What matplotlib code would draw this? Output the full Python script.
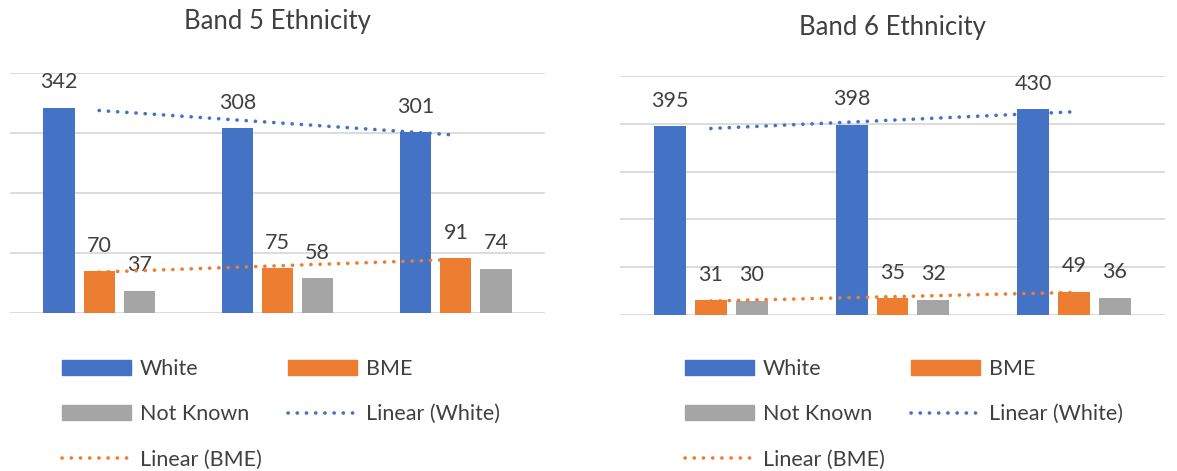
import numpy as np
import matplotlib.pyplot as plt
from matplotlib.patches import Patch
from matplotlib.lines import Line2D

plt.rcParams['font.family'] = ['Lato', 'DejaVu Sans']

# Chart data
groups = [0, 1, 2]
series = ['White', 'BME', 'Not Known']
colors = {'White': '#4472C4', 'BME': '#ED7D31', 'Not Known': '#A5A5A5'}

band5_white = [342, 308, 301]
band5_bme = [70, 75, 91]
band5_unknown = [37, 58, 74]

band6_white = [395, 398, 430]
band6_bme = [31, 35, 49]
band6_unknown = [30, 32, 36]

TEXT = '#404040'
GRID = '#d9d9d9'
DOTS = (0, (0.05, 2.5))


def draw_band(ax, white, bme, unknown, ymax):
    x = np.array(groups)
    width = 0.175
    offsets = [-0.225, 0, 0.225]
    for vals, name, off in zip([white, bme, unknown], series, offsets):
        bars = ax.bar(x + off, vals, width, color=colors[name], zorder=2)
        for b, v in zip(bars, vals):
            ax.annotate(str(v), (b.get_x() + b.get_width() / 2, v),
                        xytext=(0, 14), textcoords='offset points',
                        ha='center', va='baseline', fontsize=15.5, color=TEXT)

    # linear trendlines through group centres
    for vals, name in [(white, 'White'), (bme, 'BME')]:
        k, c = np.polyfit(x, vals, 1)
        ax.plot(x, k * x + c, color=colors[name], lw=2.6,
                linestyle=DOTS, dash_capstyle='round', zorder=3)

    ax.set_xlim(-0.5, 2.5)
    ax.set_ylim(0, ymax)
    ax.set_yticks(np.arange(0, ymax + 1, 100))
    ax.yaxis.grid(True, color=GRID, lw=1.3, zorder=0)
    ax.set_xticks([])
    ax.tick_params(left=False, labelleft=False)
    for s in ax.spines.values():
        s.set_visible(False)


def add_legend(fig, x0, top):
    h_white = Patch(color=colors['White'])
    h_bme = Patch(color=colors['BME'])
    h_unk = Patch(color=colors['Not Known'])
    l_white = Line2D([], [], color=colors['White'], lw=2.6, linestyle=DOTS,
                     dash_capstyle='round')
    l_bme = Line2D([], [], color=colors['BME'], lw=2.6, linestyle=DOTS,
                   dash_capstyle='round')
    # matplotlib fills column by column
    handles = [h_white, h_unk, l_bme, h_bme, l_white]
    labels = ['White', 'Not Known', 'Linear (BME)', 'BME', 'Linear (White)']
    fig.legend(handles, labels, ncol=2, loc='upper left',
               bbox_to_anchor=(x0 / 1177, 1 - top / 471), frameon=False,
               fontsize=15.5, labelcolor=TEXT, handlelength=3.2,
               handleheight=0.65, handletextpad=0.42, labelspacing=1.17,
               columnspacing=1.2, borderpad=0, borderaxespad=0)


fig = plt.figure(figsize=(11.77, 4.71), dpi=100)
ax1 = fig.add_axes([10 / 1177, 1 - 313 / 471, 535 / 1177, 240 / 471])
ax2 = fig.add_axes([620 / 1177, 1 - 315 / 471, 545 / 1177, 239 / 471])

draw_band(ax1, band5_white, band5_bme, band5_unknown, 400)
draw_band(ax2, band6_white, band6_bme, band6_unknown, 500)

fig.text(277 / 1177, 1 - 22 / 471, 'Band 5 Ethnicity', ha='center',
         va='center', fontsize=18.5, color=TEXT)
fig.text(892 / 1177, 1 - 28 / 471, 'Band 6 Ethnicity', ha='center',
         va='center', fontsize=18.5, color=TEXT)

add_legend(fig, 62, 359)
add_legend(fig, 685, 359)

fig.savefig('out.png', dpi=100)
